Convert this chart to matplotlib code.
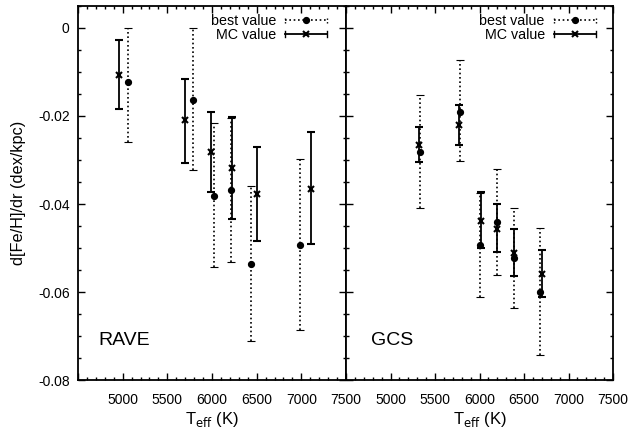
import matplotlib
matplotlib.use("Agg")
import matplotlib.pyplot as plt
import numpy as np
from matplotlib.lines import Line2D
from matplotlib.legend_handler import HandlerLine2D
from matplotlib.ticker import MultipleLocator

plt.rcParams['font.family'] = ['Liberation Sans', 'DejaVu Sans']
plt.rcParams['axes.unicode_minus'] = False

# ---------------- data ----------------
rave_T_best = [5055, 5785, 6020, 6210, 6435, 6990]
rave_best = [-0.0124, -0.0165, -0.0381, -0.0369, -0.0537, -0.0493]
rave_best_lo = [-0.0260, -0.0323, -0.0543, -0.0532, -0.0711, -0.0686]
rave_best_hi = [0.0000, 0.0000, -0.0216, -0.0205, -0.0358, -0.0297]
rave_T_mc = [4960, 5695, 5990, 6225, 6500, 7105]
rave_mc = [-0.0107, -0.0210, -0.0282, -0.0319, -0.0377, -0.0365]
rave_mc_lo = [-0.0184, -0.0306, -0.0373, -0.0435, -0.0485, -0.0491]
rave_mc_hi = [-0.0028, -0.0116, -0.0192, -0.0202, -0.0270, -0.0237]

gcs_T_best = [5335, 5780, 6010, 6195, 6385, 6685]
gcs_best = [-0.0281, -0.0191, -0.0492, -0.0441, -0.0522, -0.0599]
gcs_best_lo = [-0.0408, -0.0303, -0.0612, -0.0560, -0.0637, -0.0742]
gcs_best_hi = [-0.0153, -0.0074, -0.0375, -0.0320, -0.0409, -0.0454]
gcs_T_mc = [5320, 5775, 6015, 6200, 6390, 6705]
gcs_mc = [-0.0267, -0.0221, -0.0438, -0.0456, -0.0511, -0.0558]
gcs_mc_lo = [-0.0305, -0.0267, -0.0500, -0.0510, -0.0564, -0.0612]
gcs_mc_hi = [-0.0225, -0.0175, -0.0373, -0.0399, -0.0456, -0.0505]

panel_names = ["RAVE", "GCS"]
xtick_vals = [4500, 5000, 5500, 6000, 6500, 7000, 7500]
xtick_labels = ["", "5000", "5500", "6000", "6500", "7000", "7500"]
ytick_vals = [0, -0.02, -0.04, -0.06, -0.08]
ytick_labels = ["0", "-0.02", "-0.04", "-0.06", "-0.08"]

W, H = 632, 430
fig = plt.figure(figsize=(W / 100, H / 100), dpi=100)
top_px, bot_px = 5.7, 380.3
l_px, m_px, r_px = 78, 346, 613
ax1 = fig.add_axes([l_px / W, 1 - bot_px / H, (m_px - l_px) / W, (bot_px - top_px) / H])
ax2 = fig.add_axes([m_px / W, 1 - bot_px / H, (r_px - m_px) / W, (bot_px - top_px) / H])

dotted = (0, (1.0, 1.6))


class CapHandler(HandlerLine2D):
    def __init__(self, cap_ls, **kw):
        super().__init__(**kw)
        self.cap_ls = cap_ls

    def create_artists(self, legend, orig_handle, xdescent, ydescent,
                       width, height, fontsize, trans):
        arts = super().create_artists(legend, orig_handle, xdescent, ydescent,
                                      width, height, fontsize, trans)
        yc = (height - ydescent) / 2
        x0, x1 = -xdescent, width - xdescent
        caps = []
        for xx in (x0, x1):
            c = Line2D([xx, xx], [yc - 2.2, yc + 2.2], color='black',
                       linestyle=self.cap_ls, lw=1.0, transform=trans)
            caps.append(c)
        return list(arts) + caps


def draw(ax, Tb, vb, lob, hib, Tm, vm, lom, him, name, name_pos, leg_x):
    vb = np.array(vb); vm = np.array(vm)
    eb = [vb - np.array(lob), np.array(hib) - vb]
    em = [vm - np.array(lom), np.array(him) - vm]
    c1 = ax.errorbar(Tb, vb, yerr=eb, fmt='o', color='black', ms=4.2,
                     ecolor='black', elinewidth=1.2, capsize=2.8, capthick=1.0,
                     zorder=3)
    c1[2][0].set_linestyle(dotted)
    for cap in c1[1]:
        cap.set_markeredgewidth(0.8)
    ax.errorbar(Tm, vm, yerr=em, fmt='x', color='black', ms=5, mew=1.5,
                ecolor='black', elinewidth=1.3, capsize=2.8, capthick=1.3,
                zorder=4)
    ax.set_xlim(4500, 7500)
    ax.set_ylim(-0.08, 0.005)
    ax.set_xticks(xtick_vals)
    ax.set_xticklabels(xtick_labels)
    ax.xaxis.set_minor_locator(MultipleLocator(100))
    ax.set_yticks(ytick_vals)
    ax.yaxis.set_minor_locator(MultipleLocator(0.005))
    ax.tick_params(which='both', direction='in', top=True, right=True,
                   labelsize=10, width=1.0)
    ax.tick_params(which='major', length=5)
    ax.tick_params(which='minor', length=2.5)
    ax.tick_params(axis='x', pad=9)
    ax.tick_params(axis='y', pad=6)
    for s in ax.spines.values():
        s.set_linewidth(1.3)
    ax.set_xlabel(r"T$_{\rm eff}$ (K)", fontsize=12, labelpad=2)
    ax.text(name_pos[0], name_pos[1], name, transform=ax.transAxes, fontsize=14,
            va='center', ha='left')
    hb = Line2D([], [], color='black', linestyle=dotted, lw=1.2, marker='o', ms=4.2)
    hm = Line2D([], [], color='black', linestyle='-', lw=1.3, marker='x', ms=5, mew=1.5)
    ax.legend([hb, hm], ["best value", "MC value"], loc='upper right',
              bbox_to_anchor=(leg_x, 0.979), frameon=False, markerfirst=False,
              fontsize=10.3, handlelength=2.94, handletextpad=0.63,
              labelspacing=0.05, borderpad=0.0, borderaxespad=0.0,
              numpoints=1,
              handler_map={hb: CapHandler(dotted), hm: CapHandler('-')})


draw(ax1, rave_T_best, rave_best, rave_best_lo, rave_best_hi,
     rave_T_mc, rave_mc, rave_mc_lo, rave_mc_hi, panel_names[0],
     (0.075, 0.106), 0.929)
ax1.set_yticklabels(ytick_labels)

draw(ax2, gcs_T_best, gcs_best, gcs_best_lo, gcs_best_hi,
     gcs_T_mc, gcs_mc, gcs_mc_lo, gcs_mc_hi, panel_names[1],
     (0.092, 0.106), 0.936)
ax2.set_yticklabels([])

fig.text(19 / W, 1 - 193 / H, "d[Fe/H]/dr (dex/kpc)", rotation=90,
         ha='center', va='center', fontsize=11.7)

fig.savefig("out.png", dpi=100)
